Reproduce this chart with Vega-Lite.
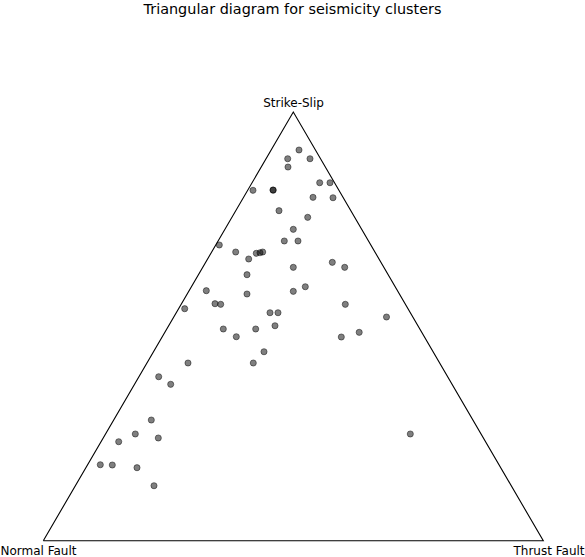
{
  "$schema": "https://vega.github.io/schema/vega-lite/v6.json",
  "width": 585,
  "height": 535,
  "autosize": {"type": "none"},
  "padding": {"left": 0, "right": 0, "top": 22, "bottom": 0},
  "background": "white",
  "title": {
    "text": "Triangular diagram for seismicity clusters",
    "anchor": "middle",
    "frame": "group",
    "font": "DejaVu Sans",
    "fontSize": 14.4,
    "fontWeight": "normal",
    "color": "#000000",
    "baseline": "bottom",
    "offset": -9
  },
  "config": {"view": {"stroke": null}},
  "datasets": {
    "triangle": [
      {"i": 0, "x": 0, "y": 0, "vertex": "Normal Fault"},
      {"i": 1, "x": 1, "y": 0, "vertex": "Thrust Fault"},
      {"i": 2, "x": 0.5, "y": 0.866, "vertex": "Strike-Slip"},
      {"i": 3, "x": 0, "y": 0, "vertex": ""}
    ],
    "clusters": [
      {"x": 0.5114, "y": 0.7893}, {"x": 0.4888, "y": 0.7717}, {"x": 0.5334, "y": 0.7717},
      {"x": 0.4894, "y": 0.7549}, {"x": 0.5528, "y": 0.7232}, {"x": 0.5734, "y": 0.7232},
      {"x": 0.4194, "y": 0.7079}, {"x": 0.4594, "y": 0.7085}, {"x": 0.4598, "y": 0.7082},
      {"x": 0.5394, "y": 0.6937}, {"x": 0.5794, "y": 0.6929}, {"x": 0.4714, "y": 0.6667},
      {"x": 0.5288, "y": 0.6533}, {"x": 0.5000, "y": 0.6291}, {"x": 0.4820, "y": 0.6055},
      {"x": 0.5094, "y": 0.6055}, {"x": 0.3520, "y": 0.5974}, {"x": 0.3848, "y": 0.5832},
      {"x": 0.4260, "y": 0.5806}, {"x": 0.4334, "y": 0.5818}, {"x": 0.4388, "y": 0.5832},
      {"x": 0.4108, "y": 0.5691}, {"x": 0.5780, "y": 0.5624}, {"x": 0.6028, "y": 0.5523},
      {"x": 0.5000, "y": 0.5523}, {"x": 0.4074, "y": 0.5374}, {"x": 0.3260, "y": 0.5051},
      {"x": 0.4074, "y": 0.4984}, {"x": 0.5000, "y": 0.5038}, {"x": 0.5240, "y": 0.5131},
      {"x": 0.3434, "y": 0.4788}, {"x": 0.3548, "y": 0.4776}, {"x": 0.6040, "y": 0.4776},
      {"x": 0.2828, "y": 0.4687}, {"x": 0.4534, "y": 0.4606}, {"x": 0.4694, "y": 0.4606},
      {"x": 0.6864, "y": 0.4519}, {"x": 0.3600, "y": 0.4277}, {"x": 0.4248, "y": 0.4277},
      {"x": 0.4634, "y": 0.4343}, {"x": 0.6318, "y": 0.4210}, {"x": 0.3860, "y": 0.4121},
      {"x": 0.5960, "y": 0.4115}, {"x": 0.4414, "y": 0.3818}, {"x": 0.2894, "y": 0.3590},
      {"x": 0.4200, "y": 0.3590}, {"x": 0.2308, "y": 0.3313}, {"x": 0.2548, "y": 0.3160},
      {"x": 0.2160, "y": 0.2438}, {"x": 0.1840, "y": 0.2156}, {"x": 0.2300, "y": 0.2075},
      {"x": 0.1508, "y": 0.2000}, {"x": 0.7340, "y": 0.2156}, {"x": 0.1140, "y": 0.1535},
      {"x": 0.1380, "y": 0.1529}, {"x": 0.1874, "y": 0.1475}, {"x": 0.2214, "y": 0.1111}
    ]
  },
  "layer": [
    {
      "data": {"name": "triangle"},
      "mark": {"type": "line", "color": "#000000", "strokeWidth": 1.1, "strokeJoin": "miter", "clip": false},
      "encoding": {
        "x": {"field": "x", "type": "quantitative", "scale": {"domain": [-0.0866, 1.0834], "nice": false, "zero": false}, "axis": null},
        "y": {"field": "y", "type": "quantitative", "scale": {"domain": [-0.0329, 1.0479], "nice": false, "zero": false}, "axis": null},
        "order": {"field": "i", "type": "quantitative"}
      }
    },
    {
      "data": {"name": "clusters"},
      "mark": {"type": "point", "shape": "circle", "filled": true, "size": 38, "fill": "#000000", "fillOpacity": 0.5, "stroke": "#000000", "strokeOpacity": 0.5, "strokeWidth": 0.9, "opacity": 1},
      "encoding": {
        "x": {"field": "x", "type": "quantitative"},
        "y": {"field": "y", "type": "quantitative"}
      }
    },
    {
      "data": {"name": "triangle"},
      "transform": [{"filter": "datum.vertex == 'Strike-Slip'"}],
      "mark": {"type": "text", "font": "DejaVu Sans", "fontSize": 12, "color": "#000000", "align": "center", "baseline": "alphabetic", "dy": -4.7, "dx": 0.2},
      "encoding": {
        "x": {"field": "x", "type": "quantitative"},
        "y": {"field": "y", "type": "quantitative"},
        "text": {"field": "vertex"}
      }
    },
    {
      "data": {"name": "triangle"},
      "transform": [{"filter": "datum.vertex == 'Normal Fault'"}],
      "mark": {"type": "text", "font": "DejaVu Sans", "fontSize": 12, "color": "#000000", "align": "center", "baseline": "alphabetic", "dy": 14, "dx": -4.8},
      "encoding": {
        "x": {"field": "x", "type": "quantitative"},
        "y": {"field": "y", "type": "quantitative"},
        "text": {"field": "vertex"}
      }
    },
    {
      "data": {"name": "triangle"},
      "transform": [{"filter": "datum.vertex == 'Thrust Fault'"}],
      "mark": {"type": "text", "font": "DejaVu Sans", "fontSize": 12, "color": "#000000", "align": "center", "baseline": "alphabetic", "dy": 14, "dx": 5.7},
      "encoding": {
        "x": {"field": "x", "type": "quantitative"},
        "y": {"field": "y", "type": "quantitative"},
        "text": {"field": "vertex"}
      }
    }
  ]
}
